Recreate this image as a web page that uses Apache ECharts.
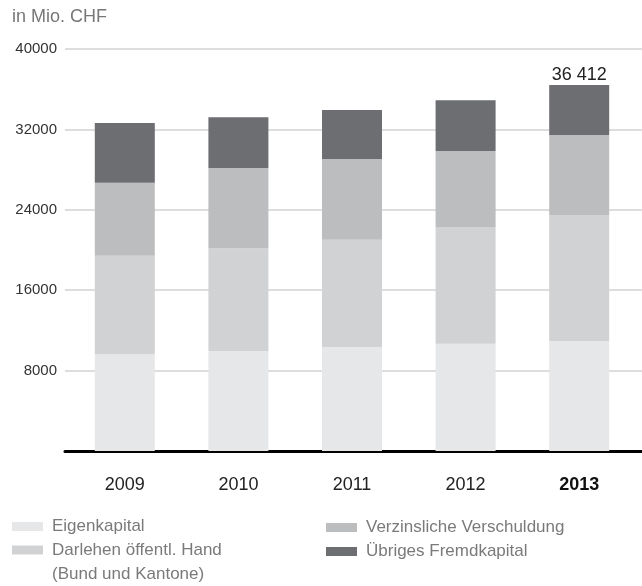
<!DOCTYPE html>
<html>
<head>
<meta charset="utf-8">
<script src="https://cdn.jsdelivr.net/npm/echarts@6/dist/echarts.min.js"></script>
<style>
  html, body { margin: 0; padding: 0; background: #fff; }
  #chart { width: 642px; height: 586px; }
</style>
</head>
<body>
<div id="chart"></div>
<script>
  // values in Mio. CHF
  var years = ["2009", "2010", "2011", "2012", "2013"]
  var eigenkapital = [9660, 9960, 10360, 10660, 10950]
  var darlehen = [9780, 10210, 10670, 11590, 12490]
  var verzinslich = [7240, 8000, 8030, 7600, 8000]
  var uebriges = [5950, 5050, 4860, 5060, 4972]
  var yTicks = [0, 8000, 16000, 24000, 32000, 40000]
  var yTickLabels = ["", "8000", "16000", "24000", "32000", "40000"]

  var names = ["Eigenkapital", "Darlehen öffentl. Hand\n(Bund und Kantone)", "Verzinsliche Verschuldung", "Übriges Fremdkapital"]
  var colors = ["#e6e7e8", "#d1d2d4", "#bcbdbf", "#6d6e71"]
  var font = "'Liberation Sans', Arial, sans-serif"

  function total(i) {
    return eigenkapital[i] + darlehen[i] + verzinslich[i] + uebriges[i]
  }
  function fmt(v) {
    return String(v).replace(/\B(?=(\d{3})+(?!\d))/g, " ")
  }

  var myChart = echarts.init(document.getElementById("chart"))
  var legendText = {fontSize: 17, lineHeight: 24, color: "#7a7a7a", fontFamily: font, padding: [0, 0, 0, 4]}

  myChart.setOption({
    animation: false,
    textStyle: {fontFamily: font},
    title: {
      text: "in Mio. CHF",
      left: 12,
      top: 8,
      padding: 0,
      textStyle: {fontSize: 18, fontWeight: "normal", color: "#777", fontFamily: font}
    },
    legend: [
      {
        orient: "vertical",
        left: 12,
        top: 514,
        height: 300,
        padding: 0,
        itemGap: -24.5,
        itemWidth: 31,
        itemHeight: 9,
        selectedMode: false,
        textStyle: legendText,
        // blank first line keeps the swatch level with the first text line
        formatter: function (name) {
          return name.indexOf("\n") > -1 ? "\n" + name : name
        },
        data: [
          {name: names[0], icon: "rect"},
          {name: names[1], icon: "rect"}
        ]
      },
      {
        orient: "vertical",
        left: 326,
        top: 515.5,
        height: 300,
        padding: 0,
        itemGap: 0,
        itemWidth: 31,
        itemHeight: 9,
        selectedMode: false,
        textStyle: legendText,
        data: [
          {name: names[2], icon: "rect"},
          {name: names[3], icon: "rect"}
        ]
      }
    ],
    grid: [
      {left: 68, right: 6, top: 49, bottom: 135},
      {left: 65, right: 0, top: 49, bottom: 135}
    ],
    xAxis: [
      {
        type: "category",
        gridIndex: 0,
        data: years,
        axisLine: {show: false},
        axisTick: {show: false},
        axisLabel: {
          margin: 25,
          fontSize: 18,
          color: "#222",
          fontFamily: font,
          formatter: function (v, i) {
            return i === years.length - 1 ? "{b|" + v + "}" : v
          },
          rich: {b: {fontWeight: "bold", fontSize: 18, color: "#111", fontFamily: font}}
        }
      },
      {
        type: "category",
        gridIndex: 1,
        data: years,
        axisLine: {show: true, lineStyle: {color: "#000", width: 3}},
        axisTick: {show: false},
        axisLabel: {show: false}
      }
    ],
    yAxis: [
      {
        type: "value",
        gridIndex: 0,
        min: 0,
        max: 40000,
        interval: 8000,
        axisLabel: {show: false},
        axisLine: {show: false},
        axisTick: {show: false},
        splitLine: {show: false}
      },
      {
        type: "value",
        gridIndex: 1,
        min: 0,
        max: 40000,
        interval: 8000,
        z: 0,
        axisLine: {show: false},
        axisTick: {show: false},
        axisLabel: {
          margin: 8,
          fontSize: 15,
          color: "#333",
          fontFamily: font,
          formatter: function (v) {
            return yTickLabels[yTicks.indexOf(v)]
          }
        },
        splitLine: {lineStyle: {color: "#d2d2d2", width: 1.5}}
      }
    ],
    series: [
      {name: names[0], type: "bar", stack: "total", barWidth: 60, data: eigenkapital, itemStyle: {color: colors[0]}},
      {name: names[1], type: "bar", stack: "total", barWidth: 60, data: darlehen, itemStyle: {color: colors[1]}},
      {name: names[2], type: "bar", stack: "total", barWidth: 60, data: verzinslich, itemStyle: {color: colors[2]}},
      {
        name: names[3],
        type: "bar",
        stack: "total",
        barWidth: 60,
        data: uebriges,
        itemStyle: {color: colors[3]},
        label: {
          show: true,
          position: "top",
          distance: 1,
          fontSize: 18,
          color: "#222",
          fontFamily: font,
          formatter: function (p) {
            return p.dataIndex === years.length - 1 ? fmt(total(p.dataIndex)) : ""
          }
        }
      }
    ]
  })
</script>
</body>
</html>
